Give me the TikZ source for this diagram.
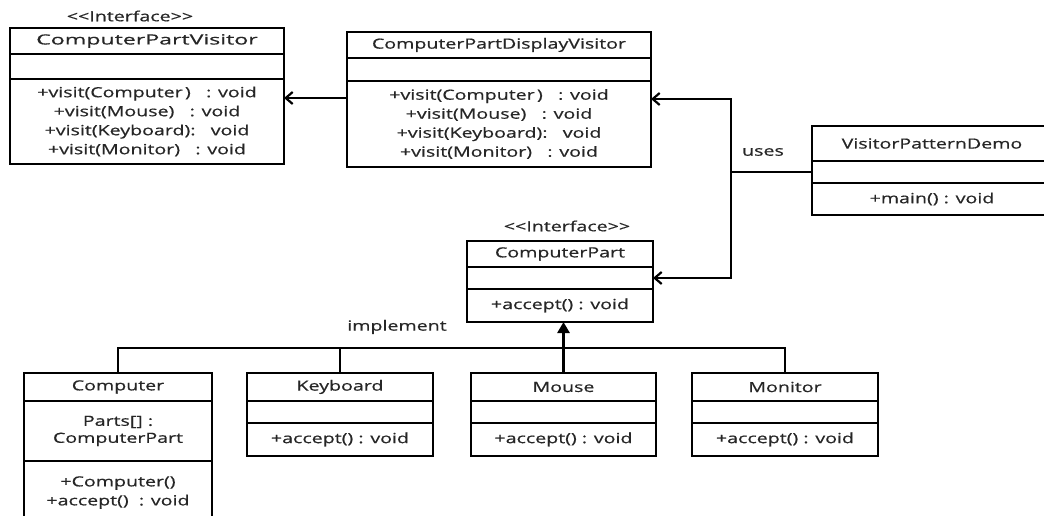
\documentclass[tikz,border=0pt]{standalone}
\usepackage{fontspec}
\setmainfont{Open Sans}[FakeStretch=1.4, FakeBold=0.6]
\usetikzlibrary{arrows.meta,calc}

\definecolor{textgray}{HTML}{262626}
\newcommand\umlfont{\fontsize{14}{19}\selectfont}

\tikzset{
  cell/.style={draw=black, line width=2.4pt, rectangle, inner sep=0pt, outer sep=0pt,
               anchor=north west, align=center, text=textgray, font=\umlfont},
  lbl/.style={inner sep=0pt, text=textgray, font=\umlfont},
  conn/.style={draw=black, line width=2.6pt},
  barb/.style={-{Straight Barb[length=7pt,width=12pt,line width=2.2pt]}},
  realize/.style={-{Triangle[length=11pt,width=12pt]}},
}

\begin{document}
\begin{tikzpicture}[x=1pt,y=-1pt]
  \fill[white] (0,0) rectangle (1044,516);
  \useasboundingbox (0,0) rectangle (1044,516);

  % ---- ComputerPartVisitor (interface)
  \node[cell, minimum width=274, minimum height=26] (cpv-n) at (10,28) {\scalebox{1.18}[1]{ComputerPartVisitor}};
  \node[cell, minimum width=274, minimum height=25] (cpv-a) at (cpv-n.south west) {};
  \node[cell, minimum width=274, minimum height=85] (cpv-o) at (cpv-a.south west)
    {+visit(Computer\,)\ \ \ : void\\+visit(Mouse)\ \ \ : void\\+visit(Keyboard):\ \ \ void\\+visit(Monitor)\ \ \ : void};
  \node[lbl] (cpv-st) at (130,16) {<{}<Interface>{}>};

  % ---- ComputerPartDisplayVisitor
  \node[cell, minimum width=304, minimum height=26] (dv-n) at (347,32) {ComputerPartDisplayVisitor};
  \node[cell, minimum width=304, minimum height=23] (dv-a) at (dv-n.south west) {};
  \node[cell, minimum width=304, minimum height=86] (dv-o) at (dv-a.south west)
    {+visit(Computer\,)\ \ \ : void\\+visit(Mouse)\ \ \ : void\\+visit(Keyboard):\ \ \ void\\+visit(Monitor)\ \ \ : void};

  % ---- VisitorPatternDemo
  \node[cell, minimum width=240, minimum height=35] (vpd-n) at (812,126) {VisitorPatternDemo};
  \node[cell, minimum width=240, minimum height=22] (vpd-a) at (vpd-n.south west) {};
  \node[cell, minimum width=240, minimum height=32] (vpd-o) at (vpd-a.south west) {+main() : void};

  % ---- ComputerPart (interface)
  \node[cell, minimum width=186, minimum height=26] (cp-n) at (467,241) {ComputerPart};
  \node[cell, minimum width=186, minimum height=22] (cp-a) at (cp-n.south west) {};
  \node[cell, minimum width=186, minimum height=33] (cp-o) at (cp-a.south west) {+accept() : void};
  \node[lbl] (cp-st) at (567,226) {<{}<Interface>{}>};

  % ---- Computer
  \node[cell, minimum width=188, minimum height=28] (comp-n) at (24,373) {Computer};
  \node[cell, minimum width=188, minimum height=60] (comp-a) at (comp-n.south west)
    {Parts[] :\\[-2pt]ComputerPart};
  \node[cell, minimum width=188, minimum height=63] (comp-o) at (comp-a.south west)
    {+Computer()\\+accept()\ \ : void};

  % ---- Keyboard
  \node[cell, minimum width=186, minimum height=28] (kb-n) at (247,373) {Keyboard};
  \node[cell, minimum width=186, minimum height=22] (kb-a) at (kb-n.south west) {};
  \node[cell, minimum width=186, minimum height=33] (kb-o) at (kb-a.south west) {+accept() : void};

  % ---- Mouse
  \node[cell, minimum width=185, minimum height=28] (mouse-n) at (471,373) {Mouse};
  \node[cell, minimum width=185, minimum height=22] (mouse-a) at (mouse-n.south west) {};
  \node[cell, minimum width=185, minimum height=33] (mouse-o) at (mouse-a.south west) {+accept() : void};

  % ---- Monitor
  \node[cell, minimum width=186, minimum height=28] (mon-n) at (692,373) {Monitor};
  \node[cell, minimum width=186, minimum height=22] (mon-a) at (mon-n.south west) {};
  \node[cell, minimum width=186, minimum height=33] (mon-o) at (mon-a.south west) {+accept() : void};

  % ---- display visitor implements the visitor interface
  \coordinate (dvout) at ($(dv-o.north west)+(0,17)$);
  \draw[conn, barb] (dvout) -- (cpv-o.east |- dvout);

  % ---- demo uses the visitor and the parts
  \coordinate (uj) at ($(vpd-a.west)+(-81,0)$);
  \coordinate (dvin) at ($(dv-o.north east)+(0,18)$);
  \draw[conn] (vpd-a.west) -- (uj);
  \draw[conn, barb] (uj) |- (dvin);
  \draw[conn, barb] (uj) |- (cp-a.east);
  \node[lbl] (uses) at ($(uj)+(32,-20)$) {uses};

  % ---- concrete parts implement ComputerPart
  \coordinate (busL) at ($(comp-n.north)+(0,-25)$);
  \draw[conn] (comp-n.north) -- (busL) -- (busL -| mon-n.north) -- (mon-n.north);
  \draw[conn] (kb-n.north) -- (kb-n.north |- busL);
  \draw[conn, realize] (mouse-n.north) -- (mouse-n.north |- cp-o.south);
  \node[lbl] (impl) at (397,327) {implement};
\end{tikzpicture}
\end{document}
